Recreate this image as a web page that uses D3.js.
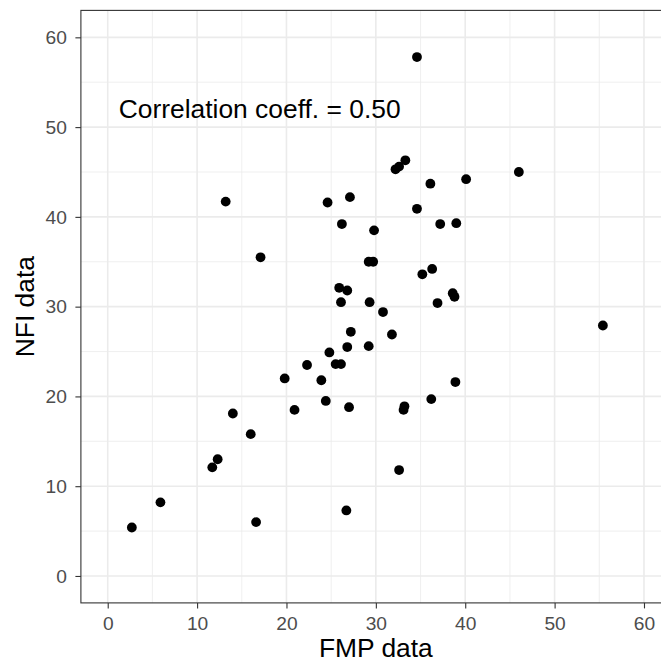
<!DOCTYPE html>
<html>
<head>
<meta charset="utf-8">
<script src="https://cdn.jsdelivr.net/npm/d3@7"></script>
<style>
  body { margin: 0; background: #ffffff; }
  svg { display: block; font-family: "Liberation Sans", Arial, sans-serif; }
</style>
</head>
<body>
<div id="scatter"></div>
<script>

//FMP values (x)
const fmpData = [
    2.7, 5.9, 11.7, 12.3, 14.0, 16.0, 16.6, 19.8, 20.9, 22.3,
    23.9, 24.4, 24.8, 25.5, 26.1, 26.8, 27.2, 27.0, 26.7, 29.2,
    31.8, 26.1, 29.3, 30.8, 25.9, 26.8, 36.9, 38.6, 38.8, 55.4,
    29.2, 29.7, 35.2, 36.3, 26.2, 29.8, 37.2, 39.0, 34.6, 13.2,
    17.1, 24.6, 27.1, 32.2, 32.6, 33.3, 36.1, 40.1, 46.0, 34.6,
    38.9, 36.2, 33.2, 33.1, 32.6
];

//NFI values (y), same order
const nfiData = [
    5.4, 8.2, 12.1, 13.0, 18.1, 15.8, 6.0, 22.0, 18.5, 23.5,
    21.8, 19.5, 24.9, 23.6, 23.6, 25.5, 27.2, 18.8, 7.3, 25.6,
    26.9, 30.5, 30.5, 29.4, 32.1, 31.8, 30.4, 31.5, 31.1, 27.9,
    35.0, 35.0, 33.6, 34.2, 39.2, 38.5, 39.2, 39.3, 40.9, 41.7,
    35.5, 41.6, 42.2, 45.3, 45.6, 46.3, 43.7, 44.2, 45.0, 57.8,
    21.6, 19.7, 18.9, 18.5, 11.8
];

const xTicks = [0, 10, 20, 30, 40, 50, 60];
const yTicks = [0, 10, 20, 30, 40, 50, 60];
const minorTicks = [5, 15, 25, 35, 45, 55];

const annotation = "Correlation coeff. = 0.50";

const points = fmpData.map(function(d, i) {
    return { fmp: d, nfi: nfiData[i] };
});

const width = 661;
const height = 663;

const svg = d3.select("#scatter")
    .append("svg")
    .attr("width", width)
    .attr("height", height);

//scales, panel runs from -3 to 63 (ggplot expansion), right edge is cropped
const xScale = d3.scaleLinear()
    .domain([-3, 63])
    .range([80.9, 670.8]);

const yScale = d3.scaleLinear()
    .domain([-3, 63])
    .range([602.9, 10.4]);

const panelLeft = xScale(-3), panelRight = xScale(63);
const panelTop = yScale(63), panelBottom = yScale(-3);

//minor grid
svg.append("g")
    .selectAll("line")
    .data(minorTicks)
    .enter()
    .append("line")
    .attr("x1", function(d) { return xScale(d); })
    .attr("x2", function(d) { return xScale(d); })
    .attr("y1", panelTop)
    .attr("y2", panelBottom)
    .attr("stroke", "#ebebeb")
    .attr("stroke-width", 0.8);

svg.append("g")
    .selectAll("line")
    .data(minorTicks)
    .enter()
    .append("line")
    .attr("x1", panelLeft)
    .attr("x2", panelRight)
    .attr("y1", function(d) { return yScale(d); })
    .attr("y2", function(d) { return yScale(d); })
    .attr("stroke", "#ebebeb")
    .attr("stroke-width", 0.8);

//major grid
svg.append("g")
    .selectAll("line")
    .data(xTicks)
    .enter()
    .append("line")
    .attr("x1", function(d) { return xScale(d); })
    .attr("x2", function(d) { return xScale(d); })
    .attr("y1", panelTop)
    .attr("y2", panelBottom)
    .attr("stroke", "#ebebeb")
    .attr("stroke-width", 1.6);

svg.append("g")
    .selectAll("line")
    .data(yTicks)
    .enter()
    .append("line")
    .attr("x1", panelLeft)
    .attr("x2", panelRight)
    .attr("y1", function(d) { return yScale(d); })
    .attr("y2", function(d) { return yScale(d); })
    .attr("stroke", "#ebebeb")
    .attr("stroke-width", 1.6);

//points
svg.append("g")
    .selectAll("circle")
    .data(points)
    .enter()
    .append("circle")
    .attr("cx", function(d) { return xScale(d.fmp); })
    .attr("cy", function(d) { return yScale(d.nfi); })
    .attr("r", 4.9)
    .attr("fill", "#000000");

//annotation
svg.append("text")
    .attr("x", xScale(17))
    .attr("y", yScale(52))
    .attr("dy", "0.35em")
    .attr("text-anchor", "middle")
    .attr("font-size", "26.4px")
    .attr("fill", "#000000")
    .text(annotation);

//panel border
svg.append("rect")
    .attr("x", panelLeft)
    .attr("y", panelTop)
    .attr("width", panelRight - panelLeft)
    .attr("height", panelBottom - panelTop)
    .attr("fill", "none")
    .attr("stroke", "#333333")
    .attr("stroke-width", 1.1);

//x axis
const xAxis = svg.append("g")
    .attr("transform", "translate(0," + panelBottom + ")")
    .call(d3.axisBottom(xScale).tickValues(xTicks).tickSize(5.5).tickPadding(7.5));

xAxis.select(".domain").remove();
xAxis.selectAll("line").attr("stroke", "#333333").attr("stroke-width", 1.1);
xAxis.selectAll("text")
    .attr("fill", "#4d4d4d")
    .style("font-size", "19.2px")
    .style("font-family", "'Liberation Sans', Arial, sans-serif");

//y axis
const yAxis = svg.append("g")
    .attr("transform", "translate(" + panelLeft + ",0)")
    .call(d3.axisLeft(yScale).tickValues(yTicks).tickSize(5.5).tickPadding(8.5));

yAxis.select(".domain").remove();
yAxis.selectAll("line").attr("stroke", "#333333").attr("stroke-width", 1.1);
yAxis.selectAll("text")
    .attr("fill", "#4d4d4d")
    .style("font-size", "19.2px")
    .style("font-family", "'Liberation Sans', Arial, sans-serif");

//axis titles
svg.append("text")
    .attr("x", (panelLeft + panelRight) / 2)
    .attr("y", 657)
    .attr("text-anchor", "middle")
    .attr("font-size", "26.4px")
    .attr("fill", "#000000")
    .text("FMP data");

svg.append("text")
    .attr("transform", "rotate(-90)")
    .attr("x", -(panelTop + panelBottom) / 2)
    .attr("y", 34)
    .attr("text-anchor", "middle")
    .attr("font-size", "26.4px")
    .attr("fill", "#000000")
    .text("NFI data");

</script>
</body>
</html>
